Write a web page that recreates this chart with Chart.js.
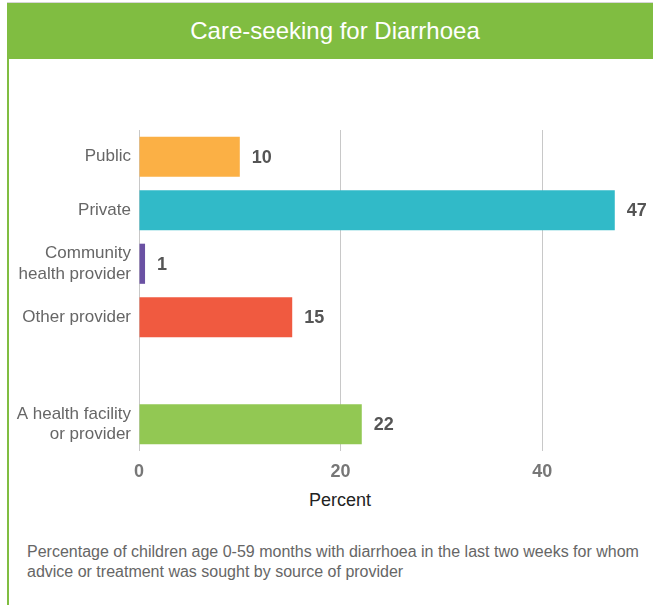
<!DOCTYPE html>
<html>
<head>
<meta charset="utf-8">
<script src="https://cdn.jsdelivr.net/npm/chart.js@4"></script>
<style>
  html, body { margin: 0; padding: 0; background: #fff; }
  body { width: 653px; height: 605px; position: relative; overflow: hidden; font-family: "Liberation Sans", Arial, sans-serif; }
  #topline { position: absolute; left: 7px; top: 2px; width: 646px; height: 1px; background: #d6d6d6; }
  #banner { position: absolute; left: 7px; top: 3px; width: 636px; height: 56px; padding-left: 10px; background: #80bd41;
            color: #fff; font-size: 24px; line-height: 56px; text-align: center; }
  #leftline { position: absolute; left: 7px; top: 59px; width: 2px; height: 546px; background: #80bd41; }
  #wrap { position: absolute; left: 0; top: 60px; width: 653px; height: 430px; }
  #xtitle { position: absolute; left: 240px; width: 200px; top: 490px; text-align: center; font-size: 18px; color: #222; }
  #note { position: absolute; left: 27px; top: 542px; width: 620px; font-size: 16px; line-height: 20px; color: #666; }
</style>
</head>
<body>
<div id="topline"></div>
<div id="banner">Care-seeking for Diarrhoea</div>
<div id="leftline"></div>
<div id="wrap"><canvas id="careChart"></canvas></div>
<div id="xtitle">Percent</div>
<div id="note">Percentage of children age 0-59 months with diarrhoea in the last two weeks for whom advice or treatment was sought by source of provider</div>
<script>
var categories = ['Public', 'Private', ['Community', 'health provider'], 'Other provider', '', ['A health facility', 'or provider']];
// bar lengths; labels show them rounded
var percentValues = [10, 47.2, 0.6, 15.2, null, 22.1];
var barColors = ['#fbb045', '#31bac8', '#6a51a3', '#f05a40', '#ffffff', '#92c853'];
var xTicks = [0, 20, 40];

// numbers to the right of each bar
var valueLabels = {
    id: 'valueLabels',
    afterDatasetsDraw: function(chart) {
        var c = chart.ctx;
        var meta = chart.getDatasetMeta(0);
        c.save();
        c.font = 'bold 18px "Liberation Sans", Arial, sans-serif';
        c.fillStyle = '#555';
        c.textBaseline = 'middle';
        meta.data.forEach(function(bar, i) {
            var v = percentValues[i];
            if (v === null) return;
            c.fillText(Math.round(v), bar.x + 12, bar.y + 1);
        });
        c.restore();
    }
};

var ctx = document.getElementById('careChart').getContext('2d');
var chart = new Chart(ctx, {
    type: 'bar',
    data: {
        labels: categories,
        datasets: [{
            data: percentValues,
            backgroundColor: barColors,
            borderWidth: 0,
            barPercentage: 0.75,
            categoryPercentage: 1
        }]
    },
    options: {
        indexAxis: 'y',
        responsive: true,
        maintainAspectRatio: false,
        animation: false,
        layout: { padding: { top: 70, right: 10, bottom: 0, left: 0 } },
        plugins: {
            legend: { display: false },
            tooltip: { enabled: false }
        },
        scales: {
            x: {
                min: 0,
                max: 50,
                afterFit: function(scale) { scale.height = 39; },
                afterBuildTicks: function(scale) {
                    scale.ticks = xTicks.map(function(v) { return { value: v }; });
                },
                grid: { color: '#c8c8c8', drawTicks: false },
                border: { display: false },
                ticks: {
                    padding: 10,
                    color: '#777',
                    font: { family: '"Liberation Sans", Arial, sans-serif', size: 18, weight: 'bold' }
                }
            },
            y: {
                afterFit: function(scale) { scale.width = 139; },
                grid: { display: false, drawTicks: false },
                border: { display: false },
                ticks: {
                    padding: 8,
                    color: '#666',
                    font: { family: '"Liberation Sans", Arial, sans-serif', size: 17, lineHeight: 1.2 }
                }
            }
        }
    },
    plugins: [valueLabels]
});
</script>
</body>
</html>
